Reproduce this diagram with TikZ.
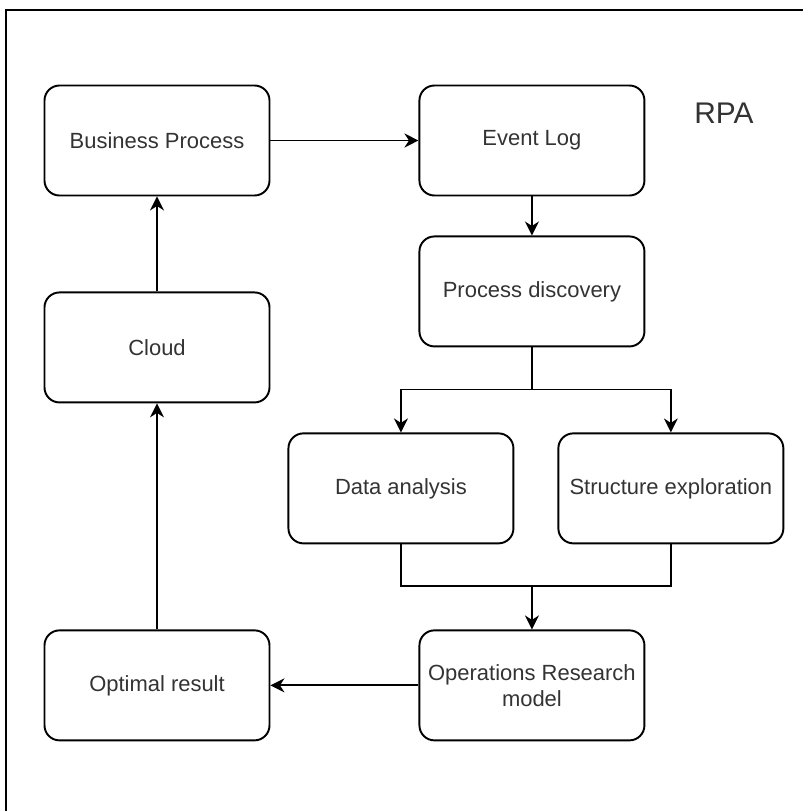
\documentclass[tikz,border=0pt]{standalone}
\usepackage{fontspec}
\setmainfont{Liberation Sans}
\usepackage{tikz}
\usetikzlibrary{arrows.meta, positioning, calc}

\begin{document}
\begin{tikzpicture}[
    box/.style={draw, line width=1.1pt, rounded corners=0.3cm, minimum width=4.5cm, minimum height=2.2cm, align=center, text=black!80, font=\fontsize{12.5}{15}\selectfont},
    arr/.style={-{Stealth[length=2.8mm, width=2.8mm, inset=0.9mm]}, line width=1pt},
    line/.style={line width=1pt},
    node distance=0.8cm
]
\useasboundingbox (0,0) rectangle (16.06,-16.22);
\draw[line width=1.1pt] (0.12,-16.22) -- (0.12,-0.2) -- (16.06,-0.2);

\node[box] (bp) at (3.14,-2.81) {Business Process};
\node[box, right=2.96cm of bp] (el) {Event Log};
\node[box, below=0.78cm of el] (pd) {Process discovery};
\node[box, below=1.9cm of bp] (cloud) {Cloud};
\node[box, below=1.7cm of pd, xshift=-2.62cm] (da) {Data analysis};
\node[box, right=0.86cm of da] (se) {Structure exploration};
\node[box, below=4.52cm of cloud] (opt) {Optimal result};
\node[box, right=2.96cm of opt] (orm) {Operations Research\\model};

\node[font=\fontsize{17}{20}\selectfont, text=black!80] (rpa) at (14.48,-2.26) {RPA};

\draw[arr] (bp) -- (el);
\draw[arr] (el) -- (pd);
\draw[line] (pd.south) -- ++(0,-0.84) coordinate (split);
\draw[arr] (split) -| (da.north);
\draw[arr] (split) -| (se.north);
\coordinate (join) at ($(da.south)+(0,-0.84)$);
\draw[line] (da.south) -- (join) -| (se.south);
\draw[arr] (join -| orm.north) -- (orm.north);
\draw[arr] (orm) -- (opt);
\draw[arr] (opt) -- (cloud);
\draw[arr] (cloud) -- (bp);
\end{tikzpicture}
\end{document}
